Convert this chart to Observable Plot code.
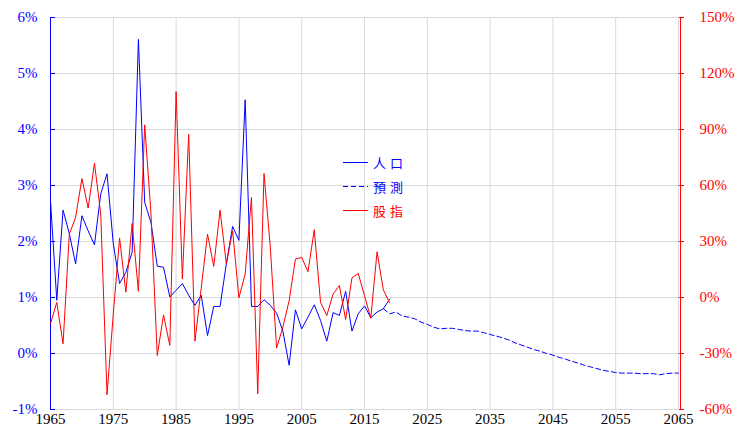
<!DOCTYPE html>
<html><head><meta charset="utf-8">
<script src="https://cdn.jsdelivr.net/npm/d3@7"></script>
<script src="https://cdn.jsdelivr.net/npm/@observablehq/plot@0.6"></script>
<style>
body{margin:0;background:#fff;}
#wrap{position:relative;width:737px;height:434px;}
.legend{position:absolute;left:343px;top:150px;font-family:"Noto Sans CJK TC","Noto Sans CJK SC",sans-serif;font-size:13px;letter-spacing:4px;line-height:1;}
.legend .row{display:flex;align-items:center;height:24px;}
.legend svg{margin-right:5px;display:block;}
</style>
</head><body>
<div id="wrap"></div>
<script>
// Historical years
const years = d3.range(1965, 2020);
// Population growth (%), left axis
const population = [2.73, 0.95, 2.56, 2.14, 1.60, 2.46, 2.19, 1.94, 2.85, 3.21,
  1.96, 1.25, 1.45, 1.81, 5.61, 2.70, 2.34, 1.56, 1.54, 1.01,
  1.13, 1.25, 1.04, 0.86, 1.04, 0.32, 0.84, 0.84, 1.60, 2.27,
  2.02, 4.53, 0.84, 0.84, 0.96, 0.86, 0.72, 0.40, -0.21, 0.78,
  0.44, 0.65, 0.87, 0.59, 0.22, 0.73, 0.68, 1.11, 0.40, 0.71,
  0.85, 0.64, 0.74, 0.80, 0.97];
// Stock index annual return (%), right axis
const stockIndex = [-14.1, -2.6, -24.8, 34.0, 42.9, 63.7, 47.9, 72.0, 44.7, -52.1,
  -8.8, 31.9, 2.8, 39.7, 3.3, 92.5, 45.0, -31.1, -9.3, -25.7,
  110.3, 9.9, 87.5, -23.4, 5.0, 34.0, 16.7, 46.8, 18.0, 35.8,
  -0.2, 12.6, 53.6, -51.6, 66.4, 27.0, -27.1, -15.9, -1.7, 20.6,
  21.5, 13.8, 36.3, -2.6, -9.7, 1.9, 6.4, -11.8, 10.5, 12.9,
  1.0, -11.1, 24.5, 4.1, -2.9];
// Forecast years and population growth forecast (%)
const forecastYears = d3.range(2018, 2066);
const forecast = [0.80, 0.71, 0.74, 0.67, 0.65, 0.62, 0.56, 0.52, 0.47, 0.44,
  0.45, 0.45, 0.43, 0.41, 0.40, 0.40, 0.37, 0.34, 0.31, 0.28,
  0.24, 0.19, 0.15, 0.11, 0.07, 0.04, 0.00, -0.03, -0.07, -0.10,
  -0.14, -0.17, -0.21, -0.24, -0.27, -0.30, -0.32, -0.34, -0.35, -0.35,
  -0.35, -0.36, -0.36, -0.36, -0.38, -0.36, -0.35, -0.35];
// Tick labels
const xTicks = d3.range(1965, 2066, 10);
const leftTicks = [-1, 0, 1, 2, 3, 4, 5, 6];
const rightTicks = [-60, -30, 0, 30, 60, 90, 120, 150];

// map right-axis values onto the left scale (-60..150 -> -1..6)
const toLeft = r => (r + 60) / 30 - 1;

const popData = years.map((y, i) => ({year: y, v: population[i]}));
const stockData = years.map((y, i) => ({year: y, v: toLeft(stockIndex[i])}));
const fcData = forecastYears.map((y, i) => ({year: y, v: forecast[i]}));

const chart = Plot.plot({
  width: 737, height: 434,
  marginLeft: 50, marginRight: 59, marginTop: 17, marginBottom: 25,
  style: {fontFamily: '"Liberation Serif", "Times New Roman", serif', fontSize: "15px", background: "white", overflow: "visible"},
  x: {domain: [1965, 2065]},
  y: {domain: [-1, 6]},
  marks: [
    Plot.gridX(xTicks, {stroke: "#d9d9d9", strokeOpacity: 1}),
    Plot.gridY(leftTicks, {stroke: "#d9d9d9", strokeOpacity: 1}),
    Plot.axisX(xTicks, {tickSize: 0, tickPadding: 4, tickFormat: d => String(d), color: "black", label: null}),
    Plot.axisY(leftTicks, {anchor: "left", tickSize: 0, tickPadding: 13, tickFormat: d => d + "%", color: "blue", label: null}),
    Plot.axisY(rightTicks.map(toLeft), {anchor: "right", tickSize: 5, tickPadding: 16, tickFormat: (d, i) => rightTicks[i] + "%", color: "red", label: null}),
    Plot.ruleY(leftTicks, {x1: 1965, x2: 1965.8, stroke: "blue"}),
    Plot.ruleX([1965], {stroke: "blue"}),
    Plot.ruleX([2065], {stroke: "red", dx: 2}),
    Plot.line(fcData, {x: "year", y: "v", stroke: "blue", strokeWidth: 1, strokeDasharray: "5,3"}),
    Plot.line(popData, {x: "year", y: "v", stroke: "blue", strokeWidth: 1}),
    Plot.line(stockData, {x: "year", y: "v", stroke: "red", strokeWidth: 1})
  ]
});
const wrap = document.getElementById("wrap");
wrap.appendChild(chart);

const legendItems = [
  {label: "人口", color: "blue", dash: null},
  {label: "預測", color: "blue", dash: "5,3"},
  {label: "股指", color: "red", dash: null}
];
const lg = document.createElement("div");
lg.className = "legend";
for (const it of legendItems) {
  const row = document.createElement("div");
  row.className = "row";
  row.innerHTML = `<svg width="25" height="3"><line x1="0" x2="25" y1="1.5" y2="1.5" stroke="${it.color}" stroke-width="1" ${it.dash ? `stroke-dasharray="${it.dash}"` : ""}/></svg><span style="color:${it.color}">${it.label}</span>`;
  lg.appendChild(row);
}
wrap.appendChild(lg);
</script>
</body></html>
